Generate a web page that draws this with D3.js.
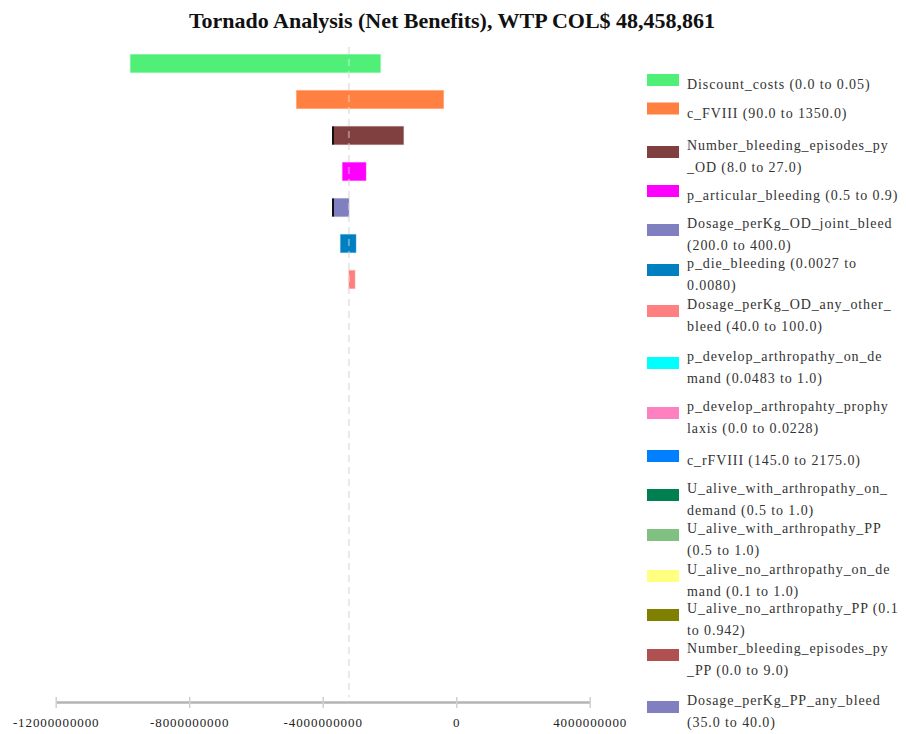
<!DOCTYPE html>
<html>
<head>
<meta charset="utf-8">
<script src="https://cdn.jsdelivr.net/npm/d3@7"></script>
<style>
  html, body { margin: 0; padding: 0; background: #fff; }
  svg { display: block; }
</style>
</head>
<body>
<svg id="chart" width="906" height="734"></svg>
<script>
// ---------------- DATA ----------------
const titleText = "Tornado Analysis (Net Benefits), WTP COL$ 48,458,861";

const categories = [
  "Discount_costs", "c_FVIII", "Number_bleeding_episodes_py_OD", "p_articular_bleeding",
  "Dosage_perKg_OD_joint_bleed", "p_die_bleeding", "Dosage_perKg_OD_any_other_bleed",
  "p_develop_arthropathy_on_demand", "p_develop_arthropahty_prophylaxis", "c_rFVIII",
  "U_alive_with_arthropathy_on_demand", "U_alive_with_arthropathy_PP",
  "U_alive_no_arthropathy_on_demand", "U_alive_no_arthropathy_PP",
  "Number_bleeding_episodes_py_PP", "Dosage_perKg_PP_any_bleed"
];

// legend labels (with the wrapping shown in the reference)
const legendLabels = [
  ["Discount_costs (0.0 to 0.05)"],
  ["c_FVIII (90.0 to 1350.0)"],
  ["Number_bleeding_episodes_py", "_OD (8.0 to 27.0)"],
  ["p_articular_bleeding (0.5 to 0.9)"],
  ["Dosage_perKg_OD_joint_bleed", "(200.0 to 400.0)"],
  ["p_die_bleeding (0.0027 to", "0.0080)"],
  ["Dosage_perKg_OD_any_other_", "bleed (40.0 to 100.0)"],
  ["p_develop_arthropathy_on_de", "mand (0.0483 to 1.0)"],
  ["p_develop_arthropahty_prophy", "laxis (0.0 to 0.0228)"],
  ["c_rFVIII (145.0 to 2175.0)"],
  ["U_alive_with_arthropathy_on_", "demand (0.5 to 1.0)"],
  ["U_alive_with_arthropathy_PP", "(0.5 to 1.0)"],
  ["U_alive_no_arthropathy_on_de", "mand (0.1 to 1.0)"],
  ["U_alive_no_arthropathy_PP (0.1", "to 0.942)"],
  ["Number_bleeding_episodes_py", "_PP (0.0 to 9.0)"],
  ["Dosage_perKg_PP_any_bleed", "(35.0 to 40.0)"]
];

// Expected net benefit at the low / high end of each bar
const baseValue = -3215000000;
const nbMin = [-9760000000, -4785000000, -3706000000, -3406000000, -3706000000, -3466000000, -3215000000,
  -3215000000, -3215000000, -3215000000, -3215000000, -3215000000, -3215000000, -3215000000, -3215000000, -3215000000];
const nbMax = [-2270000000, -380000000, -1579000000, -2705000000, -3215000000, -3005000000, -3035000000,
  -3215000000, -3215000000, -3215000000, -3215000000, -3215000000, -3215000000, -3215000000, -3215000000, -3215000000];
// bars that show a dark marker at their left end
const darkLeftEdge = [false, false, true, false, true, false, false, false, false, false, false, false, false, false, false, false];

const xTicks = [-12000000000, -8000000000, -4000000000, 0, 4000000000];

const colors = ["#50ef78", "#ff8040", "#804040", "#ff00ff", "#8080c0", "#0080c0", "#ff8080", "#00ffff",
  "#ff80c0", "#0080ff", "#008050", "#80c080", "#ffff80", "#808000", "#b05050", "#8080c0"];

// legend layout (swatch centre y for each item)
const legendSwatchY = [80, 108.5, 152, 191, 230, 270, 311, 363, 413, 456, 495, 535, 576, 615, 655, 707];

// ---------------- CHART ----------------
const svg = d3.select("#chart");

svg.append("text")
  .attr("x", 452).attr("y", 28)
  .attr("text-anchor", "middle")
  .attr("font-family", "'Liberation Serif', 'Times New Roman', serif")
  .attr("font-weight", "bold")
  .attr("font-size", 22)
  .attr("fill", "#111")
  .text(titleText);

const x = d3.scaleLinear().domain([-12000000000, 4000000000]).range([55.7, 589.7]);
const y = d3.scaleBand().domain(categories).range([45.5, 621.5]).paddingInner(0.5).paddingOuter(0.25);

// baseline dashed line
svg.append("line")
  .attr("x1", x(baseValue)).attr("x2", x(baseValue))
  .attr("y1", 47).attr("y2", 697)
  .attr("stroke", "#dedede").attr("stroke-width", 2)
  .attr("stroke-dasharray", "7,5");

// bars
const bars = svg.append("g");
categories.forEach((c, i) => {
  const x0 = x(nbMin[i]), x1 = x(nbMax[i]);
  if (x1 - x0 <= 0) return;
  bars.append("rect")
    .attr("x", x0).attr("y", y(c))
    .attr("width", x1 - x0).attr("height", y.bandwidth())
    .attr("fill", colors[i])
    .attr("stroke", colors[i]).attr("stroke-opacity", 0.35).attr("stroke-width", 1.2);
  if (darkLeftEdge[i]) {
    bars.append("rect")
      .attr("x", x0 - 0.5).attr("y", y(c))
      .attr("width", 2).attr("height", y.bandwidth())
      .attr("fill", "#111");
  }
});

// dashed line over bars (visible through them)
svg.append("line")
  .attr("x1", x(baseValue)).attr("x2", x(baseValue))
  .attr("y1", 47).attr("y2", 697)
  .attr("stroke", "#ffffff").attr("stroke-opacity", 0.35).attr("stroke-width", 2)
  .attr("stroke-dasharray", "7,5");

// x axis
const axisY = 702;
const xAxis = d3.axisBottom(x).tickValues(xTicks).tickSize(0).tickFormat(d => String(d));
const ax = svg.append("g").attr("transform", `translate(0,${axisY})`).call(xAxis);
ax.select(".domain").attr("stroke", "#b4b4b4").attr("stroke-width", 2.5);
ax.selectAll(".tick line").remove();
ax.selectAll(".tick").append("line")
  .attr("y1", -5).attr("y2", 6)
  .attr("stroke", "#d0d0d0").attr("stroke-width", 1.5);
ax.selectAll(".tick text")
  .attr("y", 25).attr("dy", 0)
  .attr("font-family", "'Liberation Serif', 'Times New Roman', serif")
  .attr("font-size", 13)
  .attr("letter-spacing", "0.9px")
  .attr("fill", "#222");

// legend
const lg = svg.append("g");
categories.forEach((c, i) => {
  const cy = legendSwatchY[i];
  lg.append("rect")
    .attr("x", 647).attr("y", cy - 6)
    .attr("width", 32).attr("height", 12)
    .attr("fill", colors[i]);
  const lines = legendLabels[i];
  const lh = 21.5;
  const blockCenter = cy + 4;
  const first = blockCenter - (lines.length - 1) * lh / 2;
  lines.forEach((t, j) => {
    lg.append("text")
      .attr("x", 687).attr("y", first + j * lh + 5)
      .attr("font-family", "'Liberation Serif', 'Times New Roman', serif")
      .attr("font-size", 14)
      .attr("letter-spacing", "0.9px")
      .attr("fill", "#333")
      .text(t);
  });
});
</script>
</body>
</html>
